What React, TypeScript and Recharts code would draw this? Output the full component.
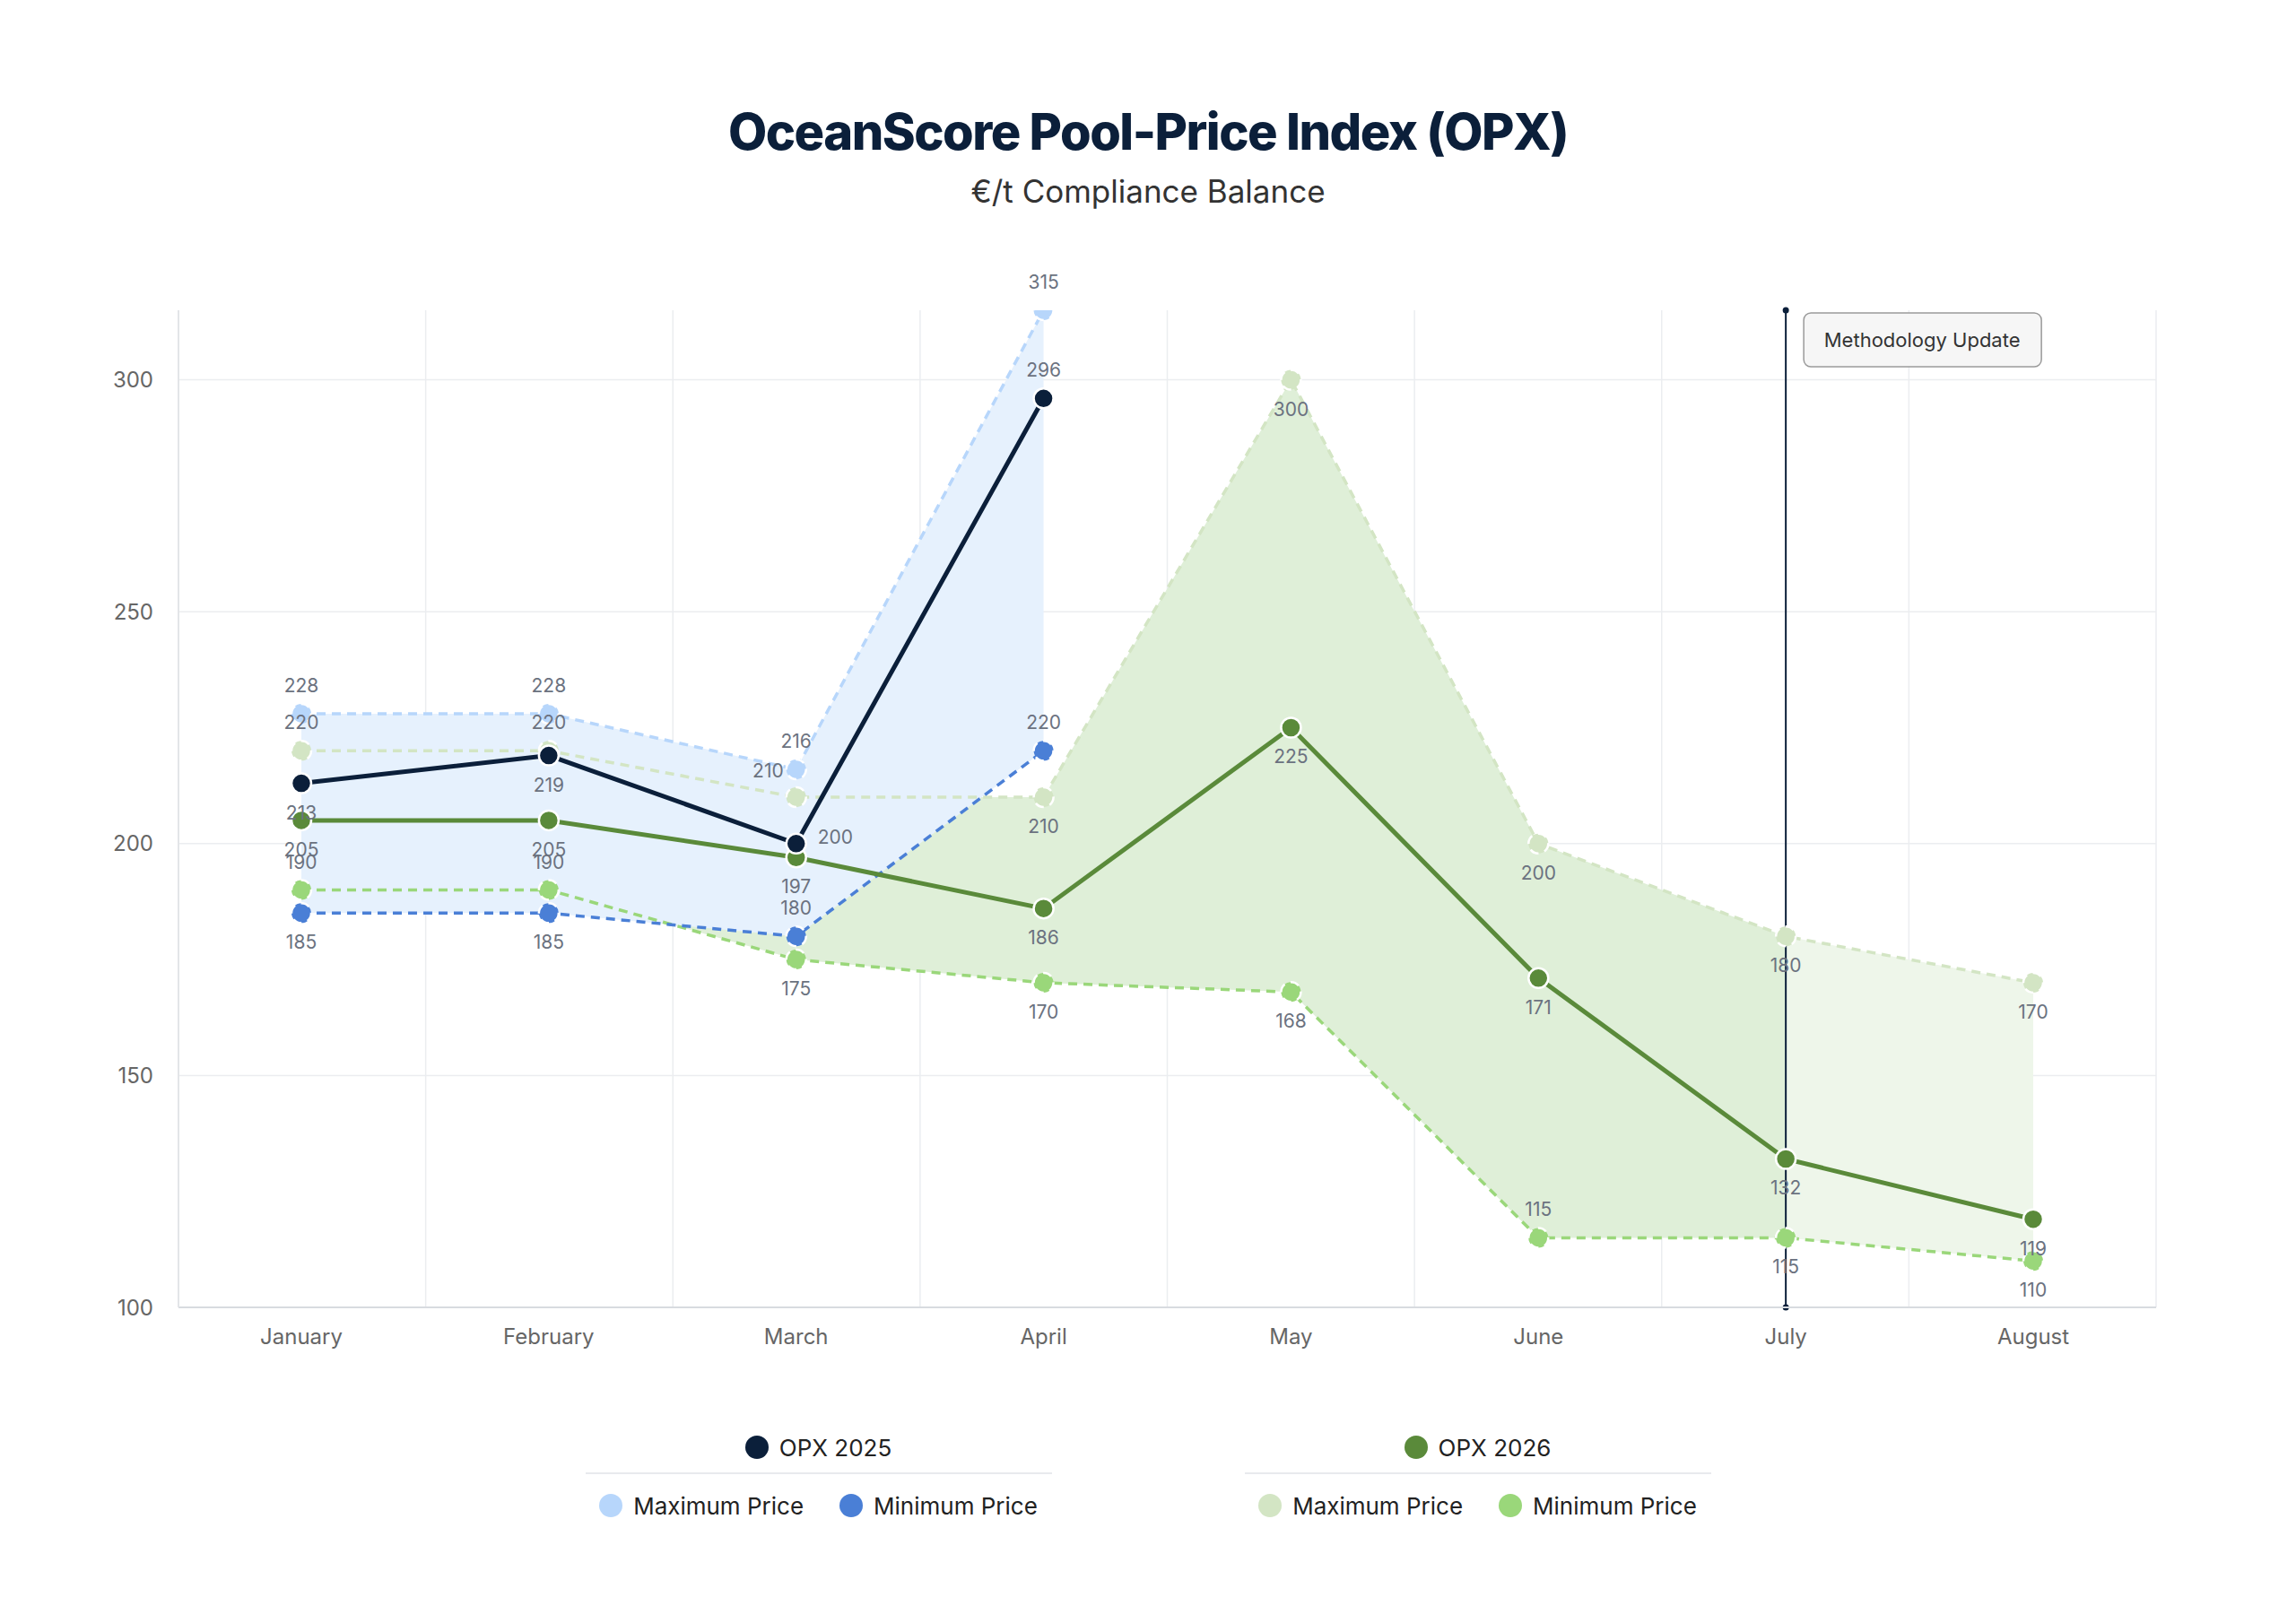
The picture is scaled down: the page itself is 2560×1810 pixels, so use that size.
import React from "react";
import {
  ComposedChart, Line, Area, XAxis, YAxis, CartesianGrid, ReferenceLine,
} from "recharts";

const months = ["January", "February", "March", "April", "May", "June", "July", "August"];
const opx2025 = [213, 219, 200, 296, null, null, null, null];
const max2025 = [228, 228, 216, 315, null, null, null, null];
const min2025 = [185, 185, 180, 220, null, null, null, null];
const opx2026 = [205, 205, 197, 186, 225, 171, 132, 119];
const max2026 = [220, 220, 210, 210, 300, 200, 180, 170];
const min2026 = [190, 190, 175, 170, 168, 115, 115, 110];
const yTicks = [100, 150, 200, 250, 300];
const updateMonth = "July";

const data = months.map((m, i) => ({
  month: m,
  idx: i,
  opx2025: opx2025[i],
  max2025: max2025[i],
  min2025: min2025[i],
  opx2026: opx2026[i],
  max2026: max2026[i],
  min2026: min2026[i],
}));
const updateIdx = months.indexOf(updateMonth);

const NAVY = "#0b1f3a";
const BLUE_MAX = "#b7d6fb";
const BLUE_MIN = "#4a7fd6";
const GREEN = "#5a8a3a";
const GREEN_MAX = "#d3e5c4";
const GREEN_MIN = "#9ad77a";
const FONT = "Inter, 'Noto Sans', sans-serif";

const dot = (c: string) => ({ r: 11, fill: c, stroke: "#fff", strokeWidth: 2.5 });

type Pos = "top" | "bottom" | "left" | "right";
const makeLabel = (pos: (i: number) => Pos) => (p: any) => {
  const { x, y, value, index } = p;
  if (value == null) return null;
  const where = pos(index);
  let dx = 0, dy = 40, anchor = "middle";
  if (where === "top") dy = -24;
  if (where === "left") { dx = -14; dy = -22; anchor = "end"; }
  if (where === "right") { dx = 24; dy = 0; anchor = "start"; }
  return (
    <text x={x + dx} y={y + dy} textAnchor={anchor} fontSize={21} fill="#6b7280" fontFamily={FONT}>
      {value}
    </text>
  );
};

const MethodLabel = (p: any) => {
  const { viewBox } = p;
  const x = viewBox.x;
  const y = viewBox.y;
  return (
    <g>
      <circle cx={x} cy={y} r={3.5} fill={NAVY} />
      <circle cx={x} cy={y + viewBox.height} r={3.5} fill={NAVY} />
      <rect x={x + 20} y={y + 3} width={265} height={60} rx={8} fill="#f6f6f6" stroke="#9a9a9a" strokeWidth={1.5} />
      <text x={x + 152} y={y + 41} textAnchor="middle" fontSize={22} fill="#333" fontFamily={FONT}>Methodology Update</text>
    </g>
  );
};

const LegendItem = ({ color, label }: { color: string; label: string }) => (
  <span style={{ display: "inline-flex", alignItems: "center", margin: "0 20px" }}>
    <span style={{ width: 26, height: 26, borderRadius: 13, background: color, marginRight: 12, display: "inline-block" }} />
    {label}
  </span>
);

const LegendGroup = ({ main, mainColor, maxColor, minColor }: any) => (
  <div style={{ width: 560, textAlign: "center" }}>
    <div style={{ height: 56, display: "flex", justifyContent: "center", alignItems: "center", borderBottom: "2px solid #e8eaed", margin: "0 20px" }}>
      <LegendItem color={mainColor} label={main} />
    </div>
    <div style={{ height: 70, display: "flex", justifyContent: "center", alignItems: "center" }}>
      <LegendItem color={maxColor} label="Maximum Price" />
      <LegendItem color={minColor} label="Minimum Price" />
    </div>
  </div>
);

export default function App() {
  return (
    <div style={{ width: 2544, height: 1794, background: "#fff", fontFamily: FONT }}>
      <div style={{ height: 280, textAlign: "center" }}>
        <div style={{ paddingTop: 104, fontSize: 56, fontWeight: 800, color: NAVY, letterSpacing: -1.5, lineHeight: "70px" }}>
          OceanScore Pool-Price Index (OPX)
        </div>
        <div style={{ fontSize: 35, color: "#333", marginTop: 10 }}>€/t Compliance Balance</div>
      </div>
      <ComposedChart width={2544} height={1230} data={data} margin={{ top: 58, right: 148, bottom: 0, left: 71 }}>
        <CartesianGrid
          stroke="#ebedf0"
          strokeWidth={1.5}
          horizontalValues={yTicks}
          verticalCoordinatesGenerator={({ offset }: any) =>
            months.map((_, i) => offset.left + (i * offset.width) / months.length).concat(offset.left + offset.width)
          }
        />
        <XAxis
          dataKey="month"
          padding={{ left: 137, right: 137 }}
          tickLine={false}
          axisLine={{ stroke: "#d8dbe0", strokeWidth: 2 }}
          tick={{ fontSize: 24, fill: "#666", fontFamily: FONT }}
          tickMargin={18}
          height={60}
        />
        <YAxis
          domain={[100, 315]}
          ticks={yTicks}
          allowDataOverflow
          tickLine={false}
          axisLine={{ stroke: "#e3e5e8", strokeWidth: 2 }}
          tick={{ fontSize: 24, fill: "#666", fontFamily: FONT }}
          tickMargin={22}
          width={120}
        />
        <Area
          dataKey={(d: any) => (d.idx <= updateIdx ? [d.min2026, d.max2026] : null)}
          stroke="none"
          fill="#dfefd8"
          fillOpacity={1}
          isAnimationActive={false}
        />
        <Area
          dataKey={(d: any) => (d.idx >= updateIdx ? [d.min2026, d.max2026] : null)}
          stroke="none"
          fill="#eef6ea"
          fillOpacity={1}
          isAnimationActive={false}
        />
        <Area
          dataKey={(d: any) => (d.max2025 == null ? null : [d.min2025, d.max2025])}
          stroke="none"
          fill="#e6f1fd"
          fillOpacity={1}
          isAnimationActive={false}
        />
        <ReferenceLine x={updateMonth} stroke={NAVY} strokeWidth={2} label={<MethodLabel />} />
        <Line dataKey="max2026" stroke={GREEN_MAX} strokeWidth={3.5} strokeDasharray="10 7" dot={dot(GREEN_MAX)} activeDot={false}
          isAnimationActive={false} label={makeLabel((i) => (i < 2 ? "top" : i === 2 ? "left" : "bottom"))} />
        <Line dataKey="min2026" stroke={GREEN_MIN} strokeWidth={3.5} strokeDasharray="10 7" dot={dot(GREEN_MIN)} activeDot={false}
          isAnimationActive={false} label={makeLabel((i) => (i < 2 || i === 5 ? "top" : "bottom"))} />
        <Line dataKey="max2025" stroke={BLUE_MAX} strokeWidth={3.5} strokeDasharray="10 7" dot={dot(BLUE_MAX)} activeDot={false}
          isAnimationActive={false} label={makeLabel(() => "top")} />
        <Line dataKey="min2025" stroke={BLUE_MIN} strokeWidth={3.5} strokeDasharray="10 7" dot={dot(BLUE_MIN)} activeDot={false}
          isAnimationActive={false} label={makeLabel((i) => (i === 2 || i === 3 ? "top" : "bottom"))} />
        <Line dataKey="opx2026" stroke={GREEN} strokeWidth={5} dot={dot(GREEN)} activeDot={false}
          isAnimationActive={false} label={makeLabel(() => "bottom")} />
        <Line dataKey="opx2025" stroke={NAVY} strokeWidth={5} dot={dot(NAVY)} activeDot={false}
          isAnimationActive={false} label={makeLabel((i) => (i === 3 ? "top" : i === 2 ? "right" : "bottom"))} />
      </ComposedChart>
      <div style={{ display: "flex", justifyContent: "center", gap: 175, marginTop: 68, fontSize: 26, color: "#222" }}>
        <LegendGroup main="OPX 2025" mainColor={NAVY} maxColor={BLUE_MAX} minColor={BLUE_MIN} />
        <LegendGroup main="OPX 2026" mainColor={GREEN} maxColor={GREEN_MAX} minColor={GREEN_MIN} />
      </div>
    </div>
  );
}
